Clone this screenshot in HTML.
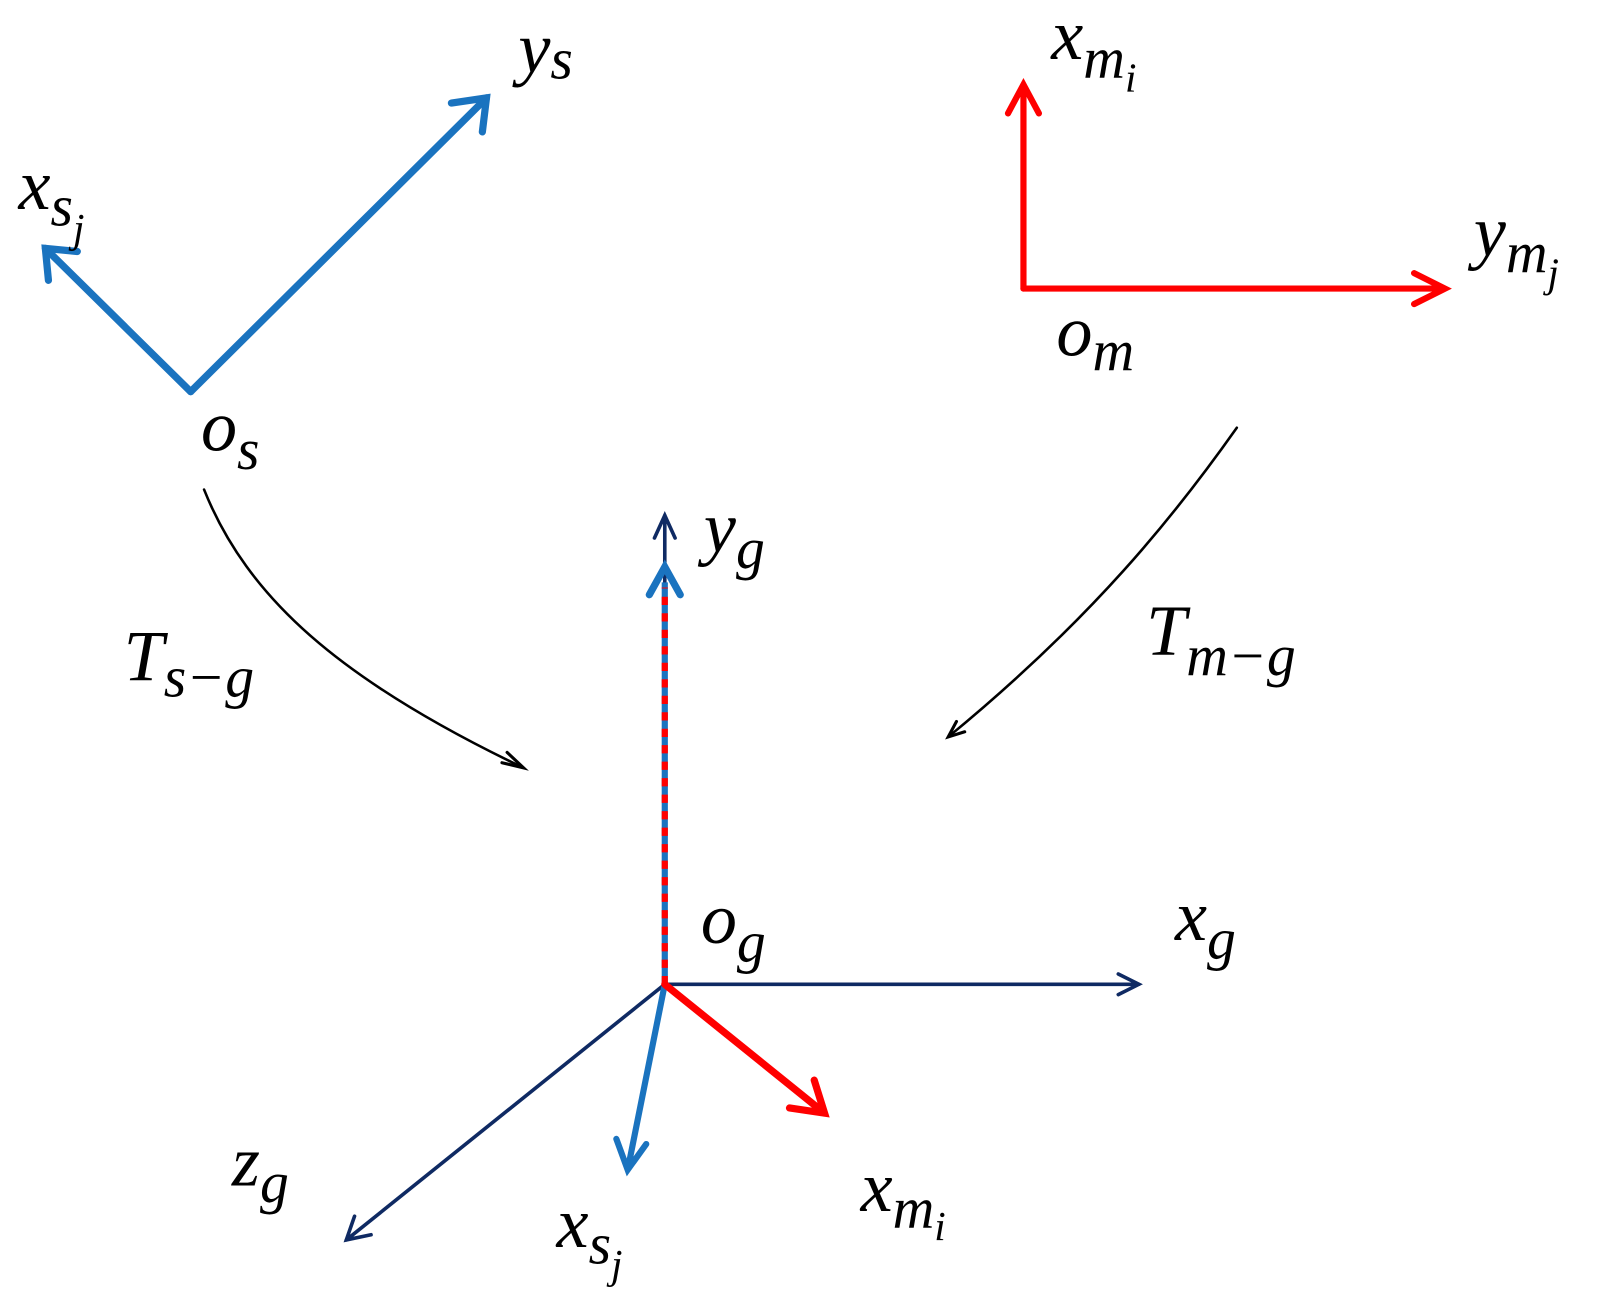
<!DOCTYPE html>
<html><head><meta charset="utf-8"><style>
html,body{margin:0;padding:0;background:#fff;}
svg{display:block;}
text{font-family:"Liberation Serif",serif;font-style:italic;fill:#000;}
</style></head><body>
<svg width="1613" height="1310" viewBox="0 0 1565 1271" preserveAspectRatio="none" xmlns="http://www.w3.org/2000/svg">
<g fill="none" stroke-linecap="round" stroke-linejoin="miter">
<g stroke="#1a73bf" stroke-width="7">
<path d="M185 380 L472 95"/><path d="M438 100 L472 95 L468 128"/>
<path d="M185 380 L44 241"/><path d="M47 272 L44 241 L75 244"/>
</g>
<g stroke="#ff0000" stroke-width="6">
<path d="M993 280 L993 82 M978 110 L993 82 L1008 110"/>
<path d="M993 280 L1402 280 M1372 265 L1402 280 L1372 295"/>
</g>
<g stroke="#0f2a63" stroke-width="3.5">
<path d="M645 955 L645 500 M635 522 L645 500 L655 522"/>
<path d="M645 955 L1105 955 M1085 945 L1105 955 L1085 965"/>
<path d="M645 955 L336 1203 M344 1180 L336 1203 L360 1198"/>
</g>
<path d="M645 955 L645 565" stroke="#1a73bf" stroke-width="6" stroke-linecap="butt"/>
<path d="M645 955 L645 570" stroke="#ff0000" stroke-width="6" stroke-dasharray="8 8" stroke-linecap="butt"/>
<path d="M630 577 L645 550 L660 577" stroke="#1a73bf" stroke-width="7"/>
<path d="M645 955 L609 1135 M598 1105 L609 1135 L627 1110" stroke="#1a73bf" stroke-width="6"/>
<path d="M645 955 L800 1080 M790 1048 L800 1080 L766 1075" stroke="#ff0000" stroke-width="7"/>
<path d="M198 475 C240 580 330 660 508 745" stroke="#000" stroke-width="2.5"/>
<path d="M487 740 L508 745 L492 730" stroke="#000" stroke-width="3"/>
<path d="M1200 415 C1140 500 1060 600 920 715" stroke="#000" stroke-width="2.5"/>
<path d="M928 700 L920 715 L936 710" stroke="#000" stroke-width="3"/>
</g>
<g font-size="70">
<text x="503" y="70">y<tspan font-size="56" dy="6">s</tspan></text>
<text x="18" y="203">x<tspan font-size="56" dy="16">s</tspan><tspan font-size="40" dy="16">j</tspan></text>
<text x="195" y="437">o<tspan font-size="56" dy="18">s</tspan></text>
<text x="1020" y="57">x<tspan font-size="56" dy="18">m</tspan><tspan font-size="40" dy="14">i</tspan></text>
<text x="1430" y="248">y<tspan font-size="56" dy="16">m</tspan><tspan font-size="40" dy="14">j</tspan></text>
<text x="1025" y="345">o<tspan font-size="56" dy="14">m</tspan></text>
<text x="683" y="535">y<tspan font-size="56" dy="16">g</tspan></text>
<text x="120" y="660">T<tspan font-size="56" dy="16">s−g</tspan></text>
<text x="1112" y="635">T<tspan font-size="56" dy="20">m−g</tspan></text>
<text x="680" y="915">o<tspan font-size="56" dy="18">g</tspan></text>
<text x="1140" y="912">x<tspan font-size="56" dy="18">g</tspan></text>
<text x="225" y="1150">z<tspan font-size="56" dy="16">g</tspan></text>
<text x="540" y="1210">x<tspan font-size="56" dy="16">s</tspan><tspan font-size="40" dy="14">j</tspan></text>
<text x="835" y="1175">x<tspan font-size="56" dy="16">m</tspan><tspan font-size="40" dy="12">i</tspan></text>
</g>
</svg>
</body></html>
